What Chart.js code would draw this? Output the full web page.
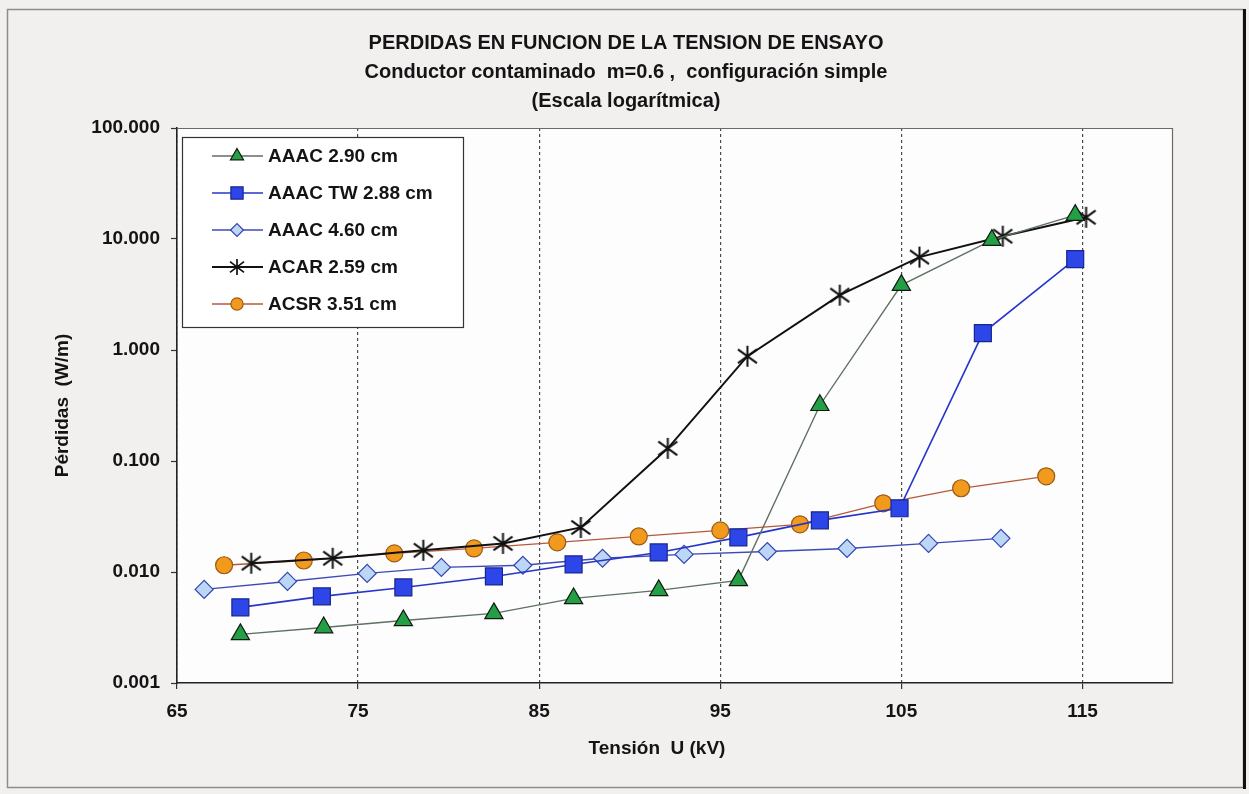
<!DOCTYPE html>
<html lang="es">
<head>
<meta charset="utf-8">
<title>Pérdidas en función de la tensión de ensayo</title>
<script src="https://cdn.jsdelivr.net/npm/chart.js@4.4.1/dist/chart.umd.min.js"></script>
<style>
  html, body { margin: 0; padding: 0; background: #f2efef; }
  #wrap { position: relative; width: 1249px; height: 794px; }
</style>
</head>
<body>
<div id="wrap"><canvas id="chart" width="1249" height="794"></canvas></div>
<script>
// Texts
const titleLines = [
  'PERDIDAS EN FUNCION DE LA TENSION DE ENSAYO',
  'Conductor contaminado  m=0.6 ,  configuración simple',
  '(Escala logarítmica)'
];
const xAxisTitle = 'Tensión  U (kV)';
const yAxisTitle = 'Pérdidas  (W/m)';

// Axis ticks
const xTicks = [65, 75, 85, 95, 105, 115];
const yTicks = [0.001, 0.01, 0.1, 1, 10, 100];

// Series: test voltage (kV) and losses (W/m)
const seriesNames = ['AAAC 2.90 cm', 'AAAC TW 2.88 cm', 'AAAC 4.60 cm', 'ACAR 2.59 cm', 'ACSR 3.51 cm'];

const aaac290X = [68.5, 73.1, 77.5, 82.5, 86.9, 91.6, 96.0, 100.5, 105.0, 110.0, 114.6];
const aaac290Y = [0.00274, 0.00316, 0.00366, 0.00424, 0.00578, 0.00683, 0.0084, 0.318, 3.84, 9.77, 16.4];

const aaacTwX = [68.5, 73.0, 77.5, 82.5, 86.9, 91.6, 96.0, 100.5, 104.9, 109.5, 114.6];
const aaacTwY = [0.0048, 0.00603, 0.00726, 0.00912, 0.0117, 0.015, 0.0205, 0.0292, 0.0375, 1.42, 6.59];

const aaac460X = [66.5, 71.1, 75.5, 79.6, 84.1, 88.5, 93.0, 97.6, 102.0, 106.5, 110.5];
const aaac460Y = [0.00697, 0.00822, 0.00971, 0.011, 0.0115, 0.0133, 0.0144, 0.0153, 0.0163, 0.0181, 0.0201];

const acarX = [69.1, 73.6, 78.6, 83.0, 87.3, 92.1, 96.5, 101.6, 106.0, 110.6, 115.2];
const acarY = [0.012, 0.0133, 0.0157, 0.0181, 0.0252, 0.13, 0.879, 3.12, 6.87, 10.6, 15.7];

const acsrX = [67.6, 72.0, 77.0, 81.4, 86.0, 90.5, 95.0, 99.4, 104.0, 108.3, 113.0];
const acsrY = [0.0115, 0.0127, 0.0147, 0.0163, 0.0185, 0.0209, 0.0237, 0.0269, 0.0416, 0.0568, 0.0728];

const FONT_FAMILY = '"Liberation Sans", Arial, Helvetica, sans-serif';
const TEXT_COLOR = '#141414';

function toPoints(xs, ys) {
  return xs.map((x, i) => ({ x: x, y: ys[i] }));
}

// Six-armed asterisk marker (vertical stroke plus two diagonals)
function makeAsterisk(size, color, width) {
  const c = document.createElement('canvas');
  c.width = size; c.height = size;
  const g = c.getContext('2d');
  const m = size / 2;
  g.strokeStyle = color;
  g.lineWidth = width;
  g.lineCap = 'butt';
  g.beginPath();
  g.moveTo(m, 1); g.lineTo(m, size - 1);
  g.moveTo(2, size * 0.2); g.lineTo(size - 2, size * 0.8);
  g.moveTo(size - 2, size * 0.2); g.lineTo(2, size * 0.8);
  g.stroke();
  return c;
}
const asteriskMarker = makeAsterisk(23, '#111111', 2);
const asteriskSmall = makeAsterisk(18, '#111111', 1.7);

const datasets = [
  {
    label: seriesNames[0], data: toPoints(aaac290X, aaac290Y),
    borderColor: '#5f6f60', borderWidth: 1.4,
    pointStyle: 'triangle', pointRadius: 10.5,
    pointBackgroundColor: '#23a046', pointBorderColor: '#101810', pointBorderWidth: 1.2
  },
  {
    label: seriesNames[1], data: toPoints(aaacTwX, aaacTwY),
    borderColor: '#2636c8', borderWidth: 1.6,
    pointStyle: 'rect', pointRadius: 12,
    pointBackgroundColor: '#2d46e8', pointBorderColor: '#1a2590', pointBorderWidth: 1.2
  },
  {
    label: seriesNames[2], data: toPoints(aaac460X, aaac460Y),
    borderColor: '#3c4bb8', borderWidth: 1.4,
    pointStyle: 'rectRot', pointRadius: 9,
    pointBackgroundColor: '#bcd6f6', pointBorderColor: '#3446b0', pointBorderWidth: 1.2
  },
  {
    label: seriesNames[3], data: toPoints(acarX, acarY),
    borderColor: '#111111', borderWidth: 2,
    pointStyle: asteriskMarker, pointRadius: 10,
    pointBackgroundColor: '#111111', pointBorderColor: '#111111', pointBorderWidth: 1,
    legendMarker: asteriskSmall
  },
  {
    label: seriesNames[4], data: toPoints(acsrX, acsrY),
    borderColor: '#b45a3c', borderWidth: 1.3,
    pointStyle: 'circle', pointRadius: 8.5,
    pointBackgroundColor: '#f29a1e', pointBorderColor: '#9a5a12', pointBorderWidth: 1.2
  }
];
datasets.forEach(d => { d.fill = false; d.tension = 0; d.pointHoverRadius = d.pointRadius; });

// Page, frame and white plot background
const backgroundPlugin = {
  id: 'pageBackground',
  beforeDraw(chart) {
    const { ctx, chartArea: a } = chart;
    ctx.save();
    ctx.fillStyle = '#f2efef';
    ctx.fillRect(0, 0, chart.width, chart.height);
    ctx.strokeStyle = '#8c8c8c';
    ctx.lineWidth = 1.5;
    ctx.strokeRect(7.5, 9.5, 1236, 778);
    ctx.fillStyle = '#111';
    ctx.fillRect(1243, 9, 3, 780);
    ctx.fillStyle = '#fdfdfd';
    ctx.fillRect(a.left, a.top, a.right - a.left, a.bottom - a.top);
    ctx.restore();
  },
  afterDraw(chart) {
    const { ctx, chartArea: a } = chart;
    ctx.save();
    // top and right edges of the plot area
    ctx.strokeStyle = '#6a6a6a';
    ctx.lineWidth = 1.2;
    ctx.beginPath();
    ctx.moveTo(a.left, a.top + 0.5);
    ctx.lineTo(a.right - 0.5, a.top + 0.5);
    ctx.lineTo(a.right - 0.5, a.bottom);
    ctx.stroke();

    // chart title
    ctx.fillStyle = TEXT_COLOR;
    ctx.textAlign = 'center';
    ctx.textBaseline = 'middle';
    ctx.font = 'bold 20px ' + FONT_FAMILY;
    const titleY = [43, 72, 101];
    titleLines.forEach((t, i) => ctx.fillText(t, 626, titleY[i]));

    // x axis title
    ctx.font = 'bold 19px ' + FONT_FAMILY;
    ctx.fillText(xAxisTitle, 657, 749);
    ctx.restore();
  }
};

// Boxed legend in the upper left corner of the plot
const boxLegendPlugin = {
  id: 'boxLegend',
  afterDraw(chart) {
    const { ctx } = chart;
    const bx = 182, by = 137, bw = 281, bh = 190;
    ctx.save();
    ctx.fillStyle = '#ffffff';
    ctx.fillRect(bx, by, bw, bh);
    ctx.strokeStyle = '#333333';
    ctx.lineWidth = 1.2;
    ctx.strokeRect(bx + 0.5, by + 0.5, bw, bh);
    chart.data.datasets.forEach((d, i) => {
      const y = 156 + i * 37;
      ctx.strokeStyle = d.borderColor;
      ctx.lineWidth = d.borderWidth;
      ctx.beginPath();
      ctx.moveTo(212, y);
      ctx.lineTo(263, y);
      ctx.stroke();
      ctx.fillStyle = d.pointBackgroundColor;
      ctx.strokeStyle = d.pointBorderColor;
      ctx.lineWidth = d.pointBorderWidth;
      Chart.helpers.drawPoint(ctx, {
        pointStyle: d.legendMarker || d.pointStyle,
        rotation: 0,
        radius: d.pointRadius * 0.72,
        borderWidth: d.pointBorderWidth
      }, 237, y);
      ctx.fillStyle = TEXT_COLOR;
      ctx.font = 'bold 19px ' + FONT_FAMILY;
      ctx.textAlign = 'left';
      ctx.textBaseline = 'middle';
      ctx.fillText(d.label, 268, y + 1);
    });
    ctx.restore();
  }
};

const tickFont = { family: FONT_FAMILY, size: 19, weight: 'bold' };

new Chart(document.getElementById('chart'), {
  type: 'line',
  data: { datasets: datasets },
  options: {
    responsive: false,
    animation: false,
    devicePixelRatio: 1,
    layout: { padding: { top: 128, left: 0, right: 76, bottom: 0 } },
    plugins: {
      legend: { display: false },
      tooltip: { enabled: false },
      title: { display: false }
    },
    scales: {
      x: {
        type: 'linear',
        min: 65,
        max: 120,
        afterBuildTicks: s => { s.ticks = xTicks.map(v => ({ value: v })); },
        afterFit: s => { s.height = 111; },
        ticks: {
          font: tickFont, color: TEXT_COLOR, padding: 11,
          autoSkip: false, maxRotation: 0,
          callback: v => String(v)
        },
        grid: {
          color: '#4a4a4a', lineWidth: 1.2,
          tickLength: 6, tickColor: '#333', tickWidth: 1.2, tickBorderDash: []
        },
        border: { color: '#222', width: 1.6, dash: [3, 3] }
      },
      y: {
        type: 'logarithmic',
        min: 0.001,
        max: 100,
        afterBuildTicks: s => { s.ticks = yTicks.map(v => ({ value: v })); },
        afterFit: s => { s.width = 177; },
        ticks: {
          font: tickFont, color: TEXT_COLOR, padding: 11,
          autoSkip: false,
          callback: v => Number(v).toFixed(3)
        },
        grid: { drawOnChartArea: false, tickLength: 6, tickColor: '#333', tickWidth: 1.2 },
        border: { color: '#222', width: 1.6 },
        title: {
          display: true, text: yAxisTitle, color: TEXT_COLOR,
          font: { family: FONT_FAMILY, size: 19, weight: 'bold' },
          padding: { top: 51, bottom: 0 }
        }
      }
    }
  },
  plugins: [backgroundPlugin, boxLegendPlugin]
});
</script>
</body>
</html>
